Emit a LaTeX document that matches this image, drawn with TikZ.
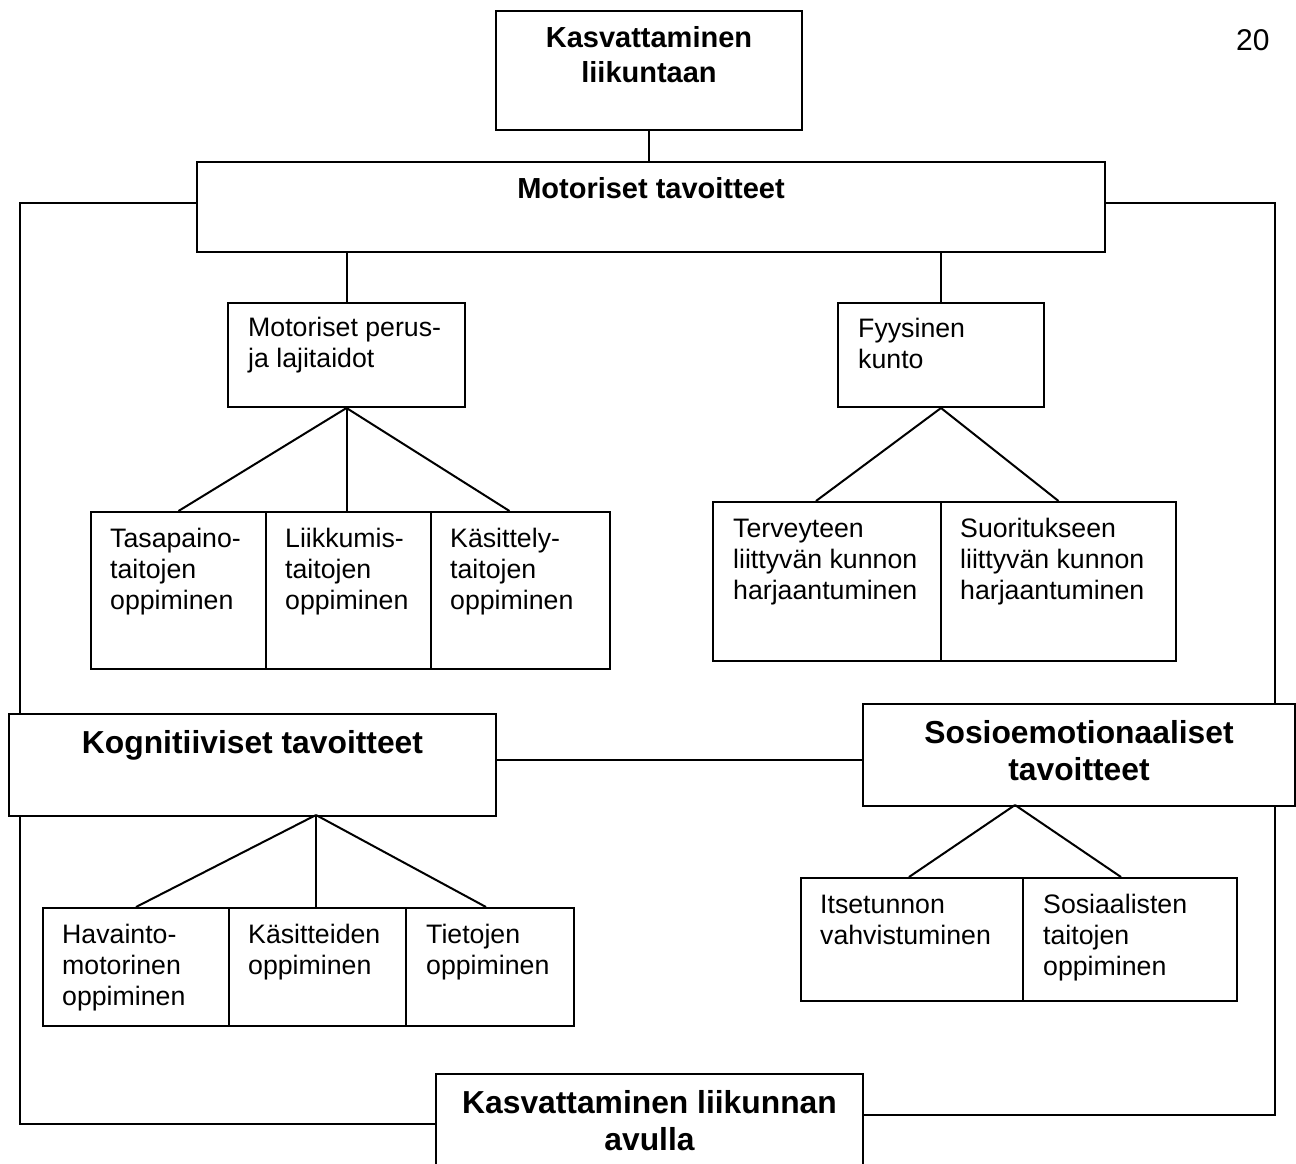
\documentclass[tikz,border=0pt]{standalone}
\usepackage{fontspec}
\setmainfont{Liberation Sans}
\usetikzlibrary{positioning}

\tikzset{
  box/.style 2 args={draw, line width=2pt, fill=white, inner sep=0pt, anchor=north west,
    minimum width=#1pt, minimum height=#2pt},
  txt/.style={anchor=base west, inner sep=0pt, align=left, font=\fontsize{26.7}{31}\selectfont},
  head/.style={anchor=base, inner sep=0pt, align=center, font=\fontsize{29}{35}\selectfont\bfseries},
  bighead/.style={head, font=\fontsize{31.8}{36.5}\selectfont\bfseries},
  link/.style={line width=2pt}
}

\begin{document}
\begin{tikzpicture}[x=1pt,y=-1pt]
\useasboundingbox (0,0) rectangle (1296,1163);

\coordinate (fl) at (20,0);
\coordinate (fr) at (1275,0);
\coordinate (mid) at (0,760);

\node[box={306}{119}] (top) at (495,10) {};
\node[box={908}{90}] (mot) at (196,161) {};
\node[box={237}{104}] (mp) at (227,302) {};
\node[box={206}{104}] (fy) at (837,302) {};
\node[box={175}{157}] (tas) at (90,511) {};
\node[box={165}{157}] (lii) at (265,511) {};
\node[box={179}{157}] (kas) at (430,511) {};
\node[box={228}{159}] (ter) at (712,501) {};
\node[box={235}{159}] (suo) at (940,501) {};
\node[box={487}{102}] (kog) at (8,713) {};
\node[box={432}{102}] (sos) at (862,703) {};
\node[box={186}{118}] (hav) at (42,907) {};
\node[box={177}{118}] (kast) at (228,907) {};
\node[box={168}{118}] (tie) at (405,907) {};
\node[box={222}{123}] (its) at (800,877) {};
\node[box={214}{123}] (sosi) at (1022,877) {};
\node[box={427}{100}] (bot) at (435,1073) {};

\coordinate (kogtip) at (316,815);
\coordinate (sostip) at (1015,805);

\node[head] (top-t) at ([yshift=-72pt]top.north) {Kasvattaminen\\liikuntaan};
\node[head] (mot-t) at ([yshift=-37pt]mot.north) {Motoriset tavoitteet};
\node[bighead] (kog-t) at ([yshift=-40pt]kog.north) {Kognitiiviset tavoitteet};
\node[bighead] (sos-t) at ([yshift=-77pt]sos.north) {Sosioemotionaaliset\\tavoitteet};
\node[bighead] (bot-t) at ([yshift=-77pt]bot.north) {Kasvattaminen liikunnan\\avulla};

\node[txt] (mp-t) at ([shift={(21,65)}]mp.north west) {Motoriset perus-\\ja lajitaidot};
\node[txt] (fy-t) at ([shift={(21,66)}]fy.north west) {Fyysinen\\kunto};
\node[txt] (tas-t) at ([shift={(20,98)}]tas.north west) {Tasapaino-\\taitojen\\oppiminen};
\node[txt] (lii-t) at ([shift={(20,98)}]lii.north west) {Liikkumis-\\taitojen\\oppiminen};
\node[txt] (kas-t) at ([shift={(20,98)}]kas.north west) {Käsittely-\\taitojen\\oppiminen};
\node[txt] (ter-t) at ([shift={(21,98)}]ter.north west) {Terveyteen\\liittyvän kunnon\\harjaantuminen};
\node[txt] (suo-t) at ([shift={(20,98)}]suo.north west) {Suoritukseen\\liittyvän kunnon\\harjaantuminen};
\node[txt] (hav-t) at ([shift={(20,98)}]hav.north west) {Havainto-\\motorinen\\oppiminen};
\node[txt] (kast-t) at ([shift={(20,67)}]kast.north west) {Käsitteiden\\oppiminen};
\node[txt] (tie-t) at ([shift={(21,67)}]tie.north west) {Tietojen\\oppiminen};
\node[txt] (its-t) at ([shift={(20,67)}]its.north west) {Itsetunnon\\vahvistuminen};
\node[txt] (sosi-t) at ([shift={(21,98)}]sosi.north west) {Sosiaalisten\\taitojen\\oppiminen};

\node[anchor=base west, inner sep=0pt, font=\fontsize{30}{36}\selectfont] (page) at (1236,50) {20};

\draw[link] (top.south) -- (top.south |- mot.north);
\draw[link] (mp.north) -- (mp.north |- mot.south);
\draw[link] (fy.north) -- (fy.north |- mot.south);
\draw[link] (mp.south) -- (tas.north);
\draw[link] (mp.south) -- (mp.south |- lii.north);
\draw[link] (mp.south) -- ([xshift=-11pt]kas.north);
\draw[link] (fy.south) -- ([xshift=-11pt]ter.north);
\draw[link] (fy.south) -- (suo.north);
\draw[link] (kogtip) -- (hav.north);
\draw[link] (kogtip) -- (kogtip |- kast.north);
\draw[link] (kogtip) -- ([xshift=-4pt]tie.north);
\draw[link] (sostip) -- ([xshift=-3pt]its.north);
\draw[link] (sostip) -- ([xshift=-9pt]sosi.north);
\draw[link] (kog.east |- mid) -- (sos.west |- mid);

\draw[link] ([yshift=4pt]mot.west) -- ([yshift=4pt]mot.west -| fl) -- (kog.north -| fl);
\draw[link] (kog.south -| fl) -- (bot.west -| fl) -- (bot.west);
\draw[link] ([yshift=4pt]mot.east) -- ([yshift=4pt]mot.east -| fr) -- (sos.north -| fr);
\draw[link] (sos.south -| fr) -- ([yshift=9pt]bot.east -| fr) -- ([yshift=9pt]bot.east);
\end{tikzpicture}
\end{document}
